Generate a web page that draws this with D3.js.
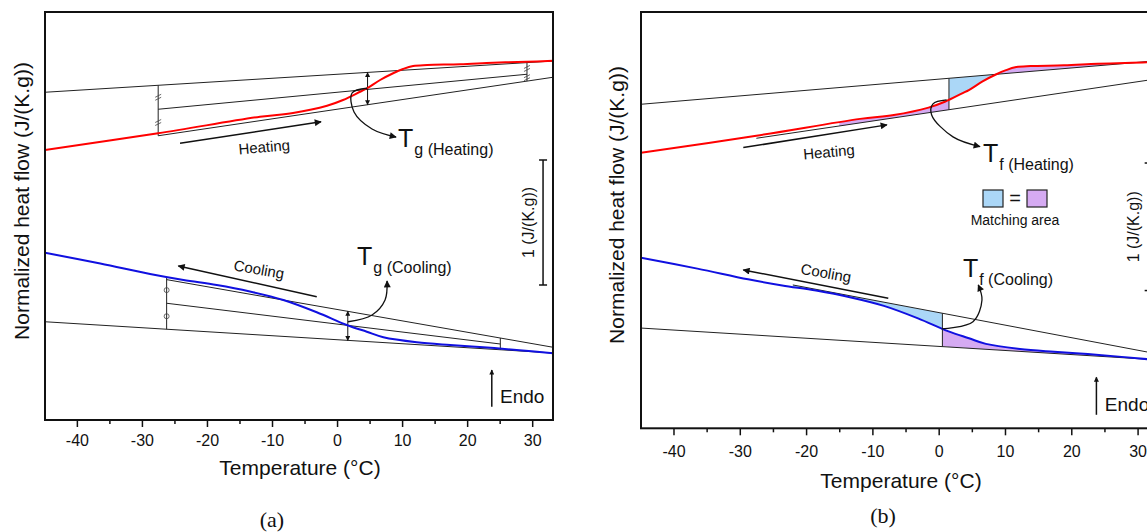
<!DOCTYPE html>
<html>
<head>
<meta charset="utf-8">
<script src="https://cdn.jsdelivr.net/npm/d3@7"></script>
<style>
  body { margin: 0; background: #fff; }
  svg text { font-family: Arial, "Liberation Sans", sans-serif; fill: #111; }
</style>
</head>
<body>
<svg id="chart" width="1147" height="532"></svg>
<script>
// temperature axis
const majorTicks = [-40, -30, -20, -10, 0, 10, 20, 30];
const minorTicks = [-35, -25, -15, -5, 5, 15, 25];
const tDomain = [-44.9, 33.2];
const vDomain = [0, 3.264];   // J/(K.g), no ticks, scale bar shows 1 unit

// heating scan (red)
const heatT = [-44.9, -27.5, -11.85, -6.77, -1.54, 0.92, 3.54, 4.62, 6.62, 8.62, 10.15, 11.7, 13.85, 18.9, 24.0, 29.2, 33.2];
const heatV = [2.160, 2.294, 2.426, 2.456, 2.514, 2.560, 2.626, 2.654, 2.720, 2.774, 2.808, 2.832, 2.840, 2.846, 2.858, 2.866, 2.874];

// cooling scan (blue)
const coolT = [-44.9, -36.4, -28.75, -23.6, -18.5, -13.4, -8.26, -3.12, 1.49, 4.57, 7.12, 12.25, 17.4, 22.5, 27.6, 33.2];
const coolV = [1.338, 1.252, 1.168, 1.120, 1.080, 1.028, 0.960, 0.862, 0.760, 0.706, 0.662, 0.622, 0.600, 0.582, 0.560, 0.534];

// tangent lines [[T0, v0], [T1, v1]]
const heatLower = [[-27.5, 2.274], [33.2, 2.742]];
const coolLower = [[-44.9, 0.786], [33.2, 0.536]];
const aHeatUpper = [[-44.9, 2.622], [33.2, 2.872]];
const aHeatMid = [[-27.5, 2.486], [29.2, 2.766]];
const aCoolUpper = [[-26.2, 1.123], [33.2, 0.582]];
const aCoolMid = [[-26.2, 0.934], [25.1, 0.608]];
const bHeatUpper = [[-44.8, 2.541], [33.2, 2.883]];
const bCoolUpper = [[-22, 1.124], [33.2, 0.581]];

// characteristic temperatures
const aHeatEnds = [-27.5, 29.2];
const aCoolEnds = [-26.2, 25.1];
const TgHeat = 4.69, TgCool = 1.65;
const TfHeat = 1.55, TfCool = 0.56;

const svg = d3.select("#chart");

// arrow heads
const defs = svg.append("defs");
defs.append("marker").attr("id", "head")
    .attr("viewBox", "0 0 10 10").attr("refX", 9).attr("refY", 5)
    .attr("markerWidth", 11).attr("markerHeight", 7)
    .attr("markerUnits", "userSpaceOnUse").attr("orient", "auto-start-reverse")
    .append("path").attr("d", "M0,0 L10,5 L0,10 Z").attr("fill", "#111");
defs.append("marker").attr("id", "small")
    .attr("viewBox", "0 0 10 10").attr("refX", 9).attr("refY", 5)
    .attr("markerWidth", 6).attr("markerHeight", 5)
    .attr("markerUnits", "userSpaceOnUse").attr("orient", "auto-start-reverse")
    .append("path").attr("d", "M0,0 L10,5 L0,10 Z").attr("fill", "#111");

function lineAt(seg, t){
    const [[t0, v0], [t1, v1]] = seg;
    return v0 + (v1 - v0) * (t - t0) / (t1 - t0);
}
function curveAt(ts, vs, t){
    let i = d3.bisectRight(ts, t);
    i = Math.max(1, Math.min(ts.length - 1, i));
    const f = (t - ts[i-1]) / (ts[i] - ts[i-1]);
    return vs[i-1] + f * (vs[i] - vs[i-1]);
}
function band(ts, vs, seg, t0, t1){
    const pts = [t0, ...ts.filter(t => t > t0 && t < t1), t1];
    return pts.map(t => ({t: t, c: curveAt(ts, vs, t), l: lineAt(seg, t)}));
}

const panels = [
    {name: "(a)", left: 45, right: 553, top: 12, bottom: 420, pad: 8,
     xTitle: [300, 475], yTitle: [29, 201], label: [272, 527]},
    {name: "(b)", left: 641, right: 1158.8, top: 12, bottom: 428.3, pad: 10,
     xTitle: [901, 488], yTitle: [624, 205], label: [883, 523]}
];

panels.forEach((p, idx) => {
    const x = d3.scaleLinear().domain(tDomain).range([p.left, p.right]);
    const y = d3.scaleLinear().domain(vDomain).range([p.bottom, p.top]);
    const g = svg.append("g");
    const clipId = "clip" + idx;
    defs.append("clipPath").attr("id", clipId).append("rect")
        .attr("x", p.left).attr("y", p.top)
        .attr("width", p.right - p.left).attr("height", p.bottom - p.top);
    const plot = g.append("g").attr("clip-path", `url(#${clipId})`);

    const line = d3.line().x(d => x(d[0])).y(d => y(d[1]));
    const smooth = d3.line().x(d => x(d[0])).y(d => y(d[1])).curve(d3.curveCatmullRom);
    const area = d3.area().x(d => x(d.t)).y0(d => y(d.c)).y1(d => y(d.l)).curve(d3.curveCatmullRom);
    const seg = (x1, y1, x2, y2) => plot.append("line")
        .attr("x1", x(x1)).attr("y1", y(y1)).attr("x2", x(x2)).attr("y2", y(y2))
        .attr("stroke", "#222").attr("stroke-width", 1);
    const curvy = d3.line().x(d => x(d[0])).y(d => y(d[1])).curve(d3.curveCatmullRom);

    if (idx === 1){
        // matching-area fills
        const cross = 8.6;
        plot.append("path").datum(band(heatT, heatV, heatLower, -15, TfHeat))
            .attr("d", area).attr("fill", "#d5aaf2");
        plot.append("path").datum(band(heatT, heatV, bHeatUpper, TfHeat, cross))
            .attr("d", area).attr("fill", "#abd7f7");
        plot.append("path").datum(band(heatT, heatV, bHeatUpper, cross, 33.2))
            .attr("d", area).attr("fill", "#d5aaf2");
        plot.append("path").datum(band(coolT, coolV, bCoolUpper, -22, TfCool))
            .attr("d", area).attr("fill", "#abd7f7");
        plot.append("path").datum(band(coolT, coolV, coolLower, TfCool, 33.2))
            .attr("d", area).attr("fill", "#d5aaf2");
    }

    // tangent lines
    const lines = idx === 0
        ? [aHeatUpper, aHeatMid, heatLower, aCoolUpper, aCoolMid, coolLower]
        : [bHeatUpper, heatLower, bCoolUpper, coolLower];
    lines.forEach(l => plot.append("path").attr("d", line(l))
        .attr("fill", "none").attr("stroke", "#222").attr("stroke-width", 1));

    if (idx === 0){
        // equal-distance construction
        aHeatEnds.forEach(t => {
            const vu = lineAt(aHeatUpper, t), vl = lineAt(heatLower, t), vm = lineAt(aHeatMid, t);
            seg(t, vu, t, vl);
            [(vu + vm) / 2, (vm + vl) / 2].forEach(v => {
                const cx = x(t), cy = y(v);
                [-1.5, 1.5].forEach(o => plot.append("line")
                    .attr("x1", cx - 3).attr("y1", cy + o + 1.5).attr("x2", cx + 3).attr("y2", cy + o - 1.5)
                    .attr("stroke", "#444").attr("stroke-width", 0.8));
            });
        });
        aCoolEnds.forEach((t, i) => {
            const vu = Math.max(lineAt(aCoolUpper, t), curveAt(coolT, coolV, t)), vl = lineAt(coolLower, t), vm = lineAt(aCoolMid, t);
            seg(t, vu, t, vl);
            if (i === 0){
                [(vu + vm) / 2, (vm + vl) / 2].forEach(v => plot.append("circle")
                    .attr("cx", x(t)).attr("cy", y(v)).attr("r", 2.5)
                    .attr("fill", "none").attr("stroke", "#444").attr("stroke-width", 0.8));
            }
        });
        // Tg double arrows
        [[TgHeat, aHeatUpper, heatLower], [TgCool, aCoolUpper, coolLower]].forEach(([t, u, l]) => {
            plot.append("line")
                .attr("x1", x(t)).attr("y1", y(lineAt(u, t))).attr("x2", x(t)).attr("y2", y(lineAt(l, t)))
                .attr("stroke", "#111").attr("stroke-width", 1)
                .attr("marker-start", "url(#small)").attr("marker-end", "url(#small)");
        });
    } else {
        seg(TfHeat, lineAt(bHeatUpper, TfHeat), TfHeat, lineAt(heatLower, TfHeat));
        seg(TfCool, lineAt(bCoolUpper, TfCool), TfCool, lineAt(coolLower, TfCool));
    }

    // DSC curves
    plot.append("path").attr("d", smooth(heatT.map((t, i) => [t, heatV[i]])))
        .attr("fill", "none").attr("stroke", "#ff0000").attr("stroke-width", 2);
    plot.append("path").attr("d", smooth(coolT.map((t, i) => [t, coolV[i]])))
        .attr("fill", "none").attr("stroke", "#1010e0").attr("stroke-width", 2);

    // scan-direction arrows and labels
    const dir = idx === 0
        ? {heat: [[-24.14, 2.214], [-2.46, 2.386]], heatTxt: [-11.2, 2.184, -5],
           cool: [[-3.12, 0.986], [-24.4, 1.232]], coolTxt: [-12, 1.205, 10]}
        : {heat: [[-29.47, 2.201], [-7.8, 2.379]], heatTxt: [-16.55, 2.167, -5],
           cool: [[-7.6, 1.02], [-29.47, 1.242]], coolTxt: [-17, 1.218, 10]};
    [dir.heat, dir.cool].forEach(a => g.append("path").attr("d", line(a))
        .attr("stroke", "#111").attr("stroke-width", 1.5).attr("marker-end", "url(#head)"));
    [["Heating", dir.heatTxt], ["Cooling", dir.coolTxt]].forEach(([s, [t, v, r]]) => {
        g.append("text").attr("transform", `translate(${x(t)},${y(v)}) rotate(${r})`)
            .attr("text-anchor", "middle").attr("dy", "0.35em")
            .style("font-size", "15px").text(s);
    });

    // callouts to the characteristic temperatures
    const sub = idx === 0 ? "g" : "f";
    const call = idx === 0
        ? {heat: [[4.61, 2.654], [2.31, 2.616], [2.61, 2.464], [5.38, 2.328], [9.07, 2.264]],
           heatTxt: [9.38, 2.184],
           cool: [[1.69, 0.786], [5.38, 0.84], [7.38, 0.96], [7.69, 1.112]],
           coolTxt: [3.08, 1.24]}
        : {heat: [[1.2, 2.575], [-0.86, 2.544], [-1.06, 2.457], [2.16, 2.285], [6.23, 2.209]],
           heatTxt: [6.68, 2.09],
           cool: [[0.45, 0.779], [5.17, 0.836], [6.53, 1.006], [5.97, 1.124]],
           coolTxt: [3.66, 1.187]};
    [call.heat, call.cool].forEach(c => g.append("path").attr("d", curvy(c))
        .attr("fill", "none").attr("stroke", "#111").attr("stroke-width", 1.3)
        .attr("marker-end", "url(#head)"));
    [[call.heatTxt, "Heating"], [call.coolTxt, "Cooling"]].forEach(([[t, v], s]) => {
        const tx = g.append("text").attr("x", x(t)).attr("y", y(v));
        tx.append("tspan").style("font-size", "25px").text("T");
        tx.append("tspan").attr("dx", 1).attr("dy", 8).style("font-size", "16px").text(`${sub} (${s})`);
    });

    if (idx === 1){
        // matching area legend
        const ly = 190;
        g.append("rect").attr("x", 983).attr("y", ly).attr("width", 20).attr("height", 17)
            .attr("fill", "#abd7f7").attr("stroke", "#222").attr("stroke-width", 1.2);
        g.append("text").attr("x", 1015).attr("y", ly + 15).attr("text-anchor", "middle")
            .style("font-size", "20px").text("=");
        g.append("rect").attr("x", 1027).attr("y", ly).attr("width", 20).attr("height", 17)
            .attr("fill", "#d5aaf2").attr("stroke", "#222").attr("stroke-width", 1.2);
        g.append("text").attr("x", 1015).attr("y", 225).attr("text-anchor", "middle")
            .style("font-size", "14px").text("Matching area");
    }

    // scale bar: 1 J/(K.g)
    const sbT = 31.67, sbLo = 1.08, sbHi = 2.08;
    g.append("line").attr("x1", x(sbT)).attr("x2", x(sbT)).attr("y1", y(sbLo)).attr("y2", y(sbHi))
        .attr("stroke", "#111").attr("stroke-width", 1.5);
    [sbLo, sbHi].forEach(v => g.append("line")
        .attr("x1", x(sbT) - 4).attr("x2", x(sbT) + 4).attr("y1", y(v)).attr("y2", y(v))
        .attr("stroke", "#111").attr("stroke-width", 1.5));
    g.append("text").attr("transform", `translate(${x(29.37) + 6},${y((sbLo + sbHi) / 2)}) rotate(-90)`)
        .attr("text-anchor", "middle").style("font-size", "16px").text("1 (J/(K.g))");

    // Endo
    g.append("line").attr("x1", x(23.79)).attr("x2", x(23.79)).attr("y1", y(0.106)).attr("y2", y(0.4))
        .attr("stroke", "#111").attr("stroke-width", 1.5).attr("marker-end", "url(#small)");
    g.append("text").attr("x", x(25.06)).attr("y", y(0.136)).style("font-size", "19px").text("Endo");

    // axes
    g.append("g").attr("transform", `translate(0,${p.bottom})`)
        .call(d3.axisBottom(x).tickValues(minorTicks).tickSize(4).tickFormat(""))
        .call(a => a.select(".domain").remove())
        .selectAll("line").attr("stroke", "#111").attr("stroke-width", 1.5);
    const ax = g.append("g").attr("transform", `translate(0,${p.bottom})`)
        .call(d3.axisBottom(x).tickValues(majorTicks).tickSize(7).tickPadding(p.pad).tickFormat(d => String(d)));
    ax.select(".domain").remove();
    ax.selectAll("line").attr("stroke", "#111").attr("stroke-width", 1.5);
    ax.selectAll("text").style("font-size", "16px").style("font-family", "Arial, 'Liberation Sans', sans-serif").attr("fill", "#111");

    g.append("rect").attr("x", p.left).attr("y", p.top)
        .attr("width", p.right - p.left).attr("height", p.bottom - p.top)
        .attr("fill", "none").attr("stroke", "#111").attr("stroke-width", 2);

    g.append("text").attr("x", p.xTitle[0]).attr("y", p.xTitle[1]).attr("text-anchor", "middle")
        .style("font-size", "21px").text("Temperature (°C)");
    g.append("text").attr("transform", `translate(${p.yTitle[0]},${p.yTitle[1]}) rotate(-90)`)
        .attr("text-anchor", "middle").style("font-size", "21px").text("Normalized heat flow (J/(K.g))");
    g.append("text").attr("x", p.label[0]).attr("y", p.label[1]).attr("text-anchor", "middle")
        .style("font-family", "'Times New Roman', 'Liberation Serif', serif").style("font-size", "22px")
        .text(p.name);
});
</script>
</body>
</html>
